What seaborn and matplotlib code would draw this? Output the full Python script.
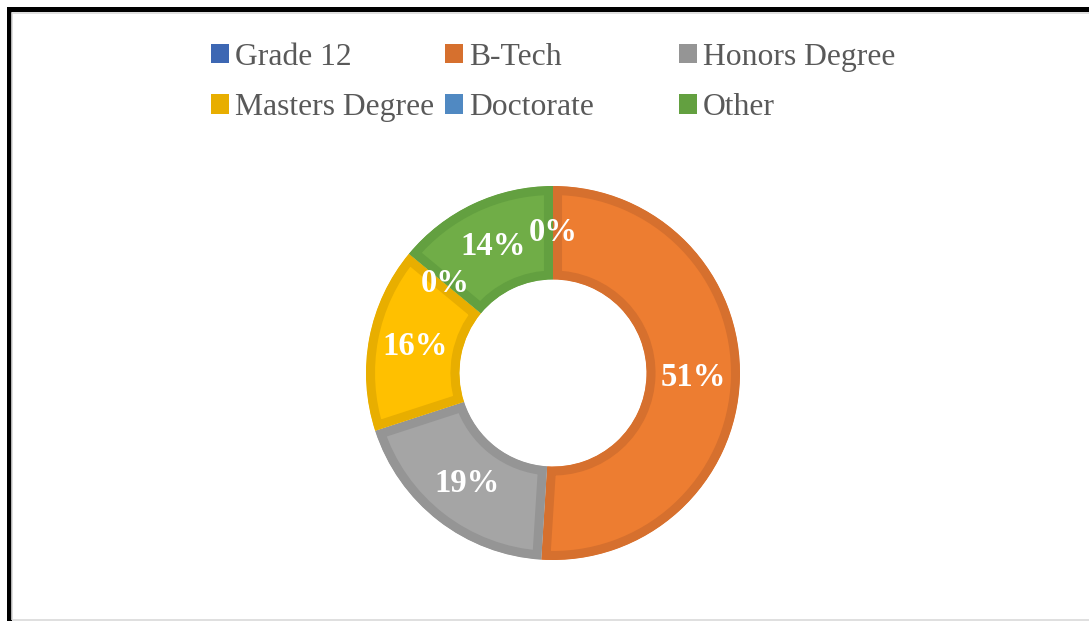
import matplotlib
matplotlib.use("Agg")
import matplotlib.pyplot as plt
import seaborn as sns
from matplotlib.patches import Patch, Rectangle

categories = ["Grade 12", "B-Tech", "Honors Degree", "Masters Degree", "Doctorate", "Other"]
values = [0, 51, 19, 16, 0, 14]
face_colors = ["#4472C4", "#ED7D31", "#A5A5A5", "#FFC000", "#5B9BD5", "#70AD47"]
edge_colors = ["#3D67B3", "#D6702E", "#959595", "#E8AE00", "#5089C2", "#63A040"]

sns.set_theme(style="white")
plt.rcParams["font.family"] = ["Liberation Serif", "DejaVu Serif"]

W, H, DPI = 1089, 621, 100
fig = plt.figure(figsize=(W / DPI, H / DPI), dpi=DPI, facecolor="white")


def fx(px):
    return px / W


def fy(py):
    return 1 - py / H


# donut axes: centre (553, 373) px, radius 187 px
cx, cy, r = 553, 373, 187
ax = fig.add_axes([fx(cx - r), fy(cy + r), 2 * r / W, 2 * r / H])
pal = sns.color_palette(face_colors)
wedges, texts, autotexts = ax.pie(
    values,
    colors=pal,
    startangle=90,
    counterclock=False,
    radius=1.0,
    autopct="%1.0f%%",
    pctdistance=0.75,
    wedgeprops=dict(width=0.5, linewidth=13),
    textprops=dict(color="white", fontsize=23.5, fontweight="bold"),
)
for w, ec in zip(wedges, edge_colors):
    w.set_edgecolor(ec)
    w.set_clip_on(True)
    w.set_clip_path(w.get_path(), w.get_transform())
ax.set_xlim(-1.0, 1.0)
ax.set_ylim(-1.0, 1.0)
ax.set_aspect("equal")
ax.axis("off")

# legends: three columns of two rows, row-major order
cols = [(0, 3), (1, 4), (2, 5)]
col_x = [211, 445, 679]
for (i, j), x in zip(cols, col_x):
    handles = [Patch(facecolor=edge_colors[k], edgecolor="none") for k in (i, j)]
    fig.legend(
        handles,
        [categories[i], categories[j]],
        loc="upper left",
        bbox_to_anchor=(fx(x), fy(43)),
        frameon=False,
        fontsize=22.8,
        labelcolor="#595959",
        handlelength=0.56,
        handleheight=0.56,
        handletextpad=0.19,
        labelspacing=0.67,
        borderpad=0,
        borderaxespad=0,
    )

# outer frame (black, top and left) and inner light grey chart border
fig.add_artist(Rectangle((fx(8.5), fy(700)), fx(1200), fy(9) - fy(700),
                         transform=fig.transFigure, fill=False,
                         edgecolor="black", linewidth=3.6))
fig.add_artist(Rectangle((fx(12), fy(619.5)), fx(1200), fy(12.5) - fy(619.5),
                         transform=fig.transFigure, fill=False,
                         edgecolor="#D9D9D9", linewidth=1.2))

fig.savefig("out.png", dpi=DPI, facecolor="white")
